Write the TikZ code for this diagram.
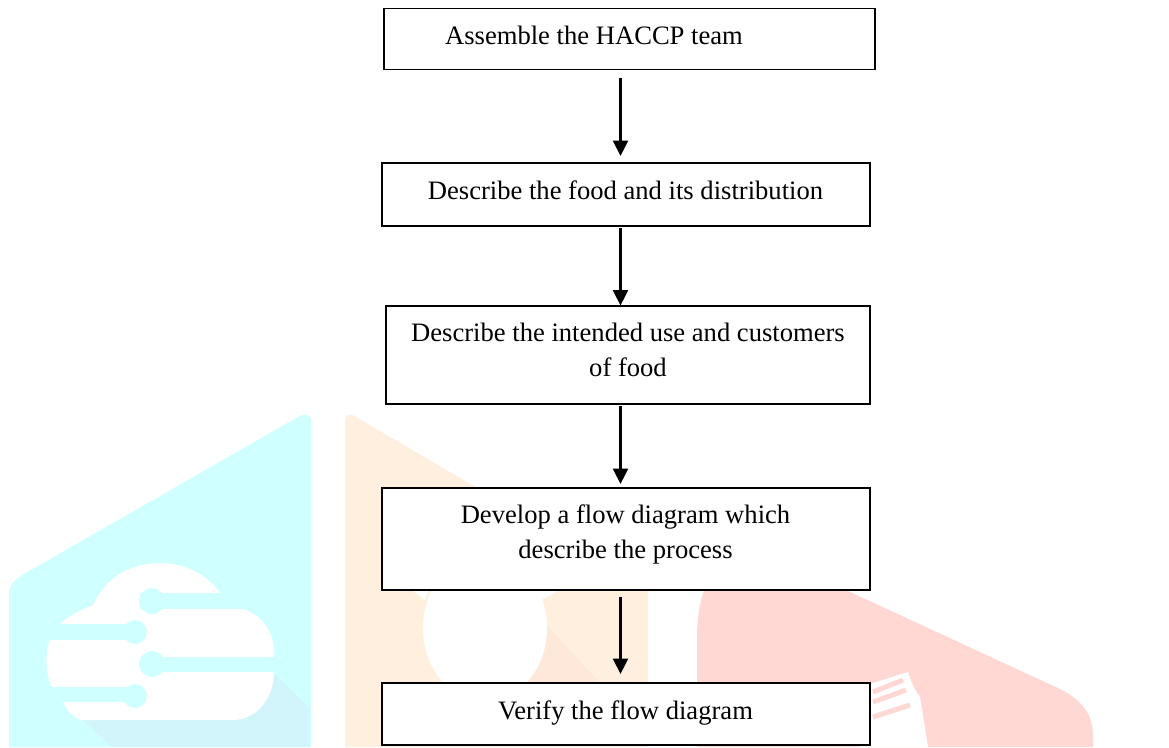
\documentclass[tikz,border=0pt]{standalone}
\usepackage{fontspec}
\setmainfont{Liberation Serif}
\usetikzlibrary{arrows.meta}
\definecolor{wcyan}{HTML}{CFFFFF}
\definecolor{wcyans}{HTML}{D2F5FC}
\definecolor{worange}{HTML}{FFEFDF}
\definecolor{woranges}{HTML}{FEE8DA}
\definecolor{wred}{HTML}{FFD7D3}
\newcommand{\boxbetween}[5]{\node[stepbox,minimum width=#3pt-#2pt,minimum height=#5pt-#4pt] (#1) at ({(#2+#3)/2},{(#4+#5)/2}) {};}
\tikzset{
  stepbox/.style={draw=black,line width=1.8pt,fill=white,inner sep=0pt,outer sep=0pt},
  steptext/.style={anchor=base,inner sep=0pt,align=center,font=\fontsize{26.6pt}{35.5pt}\selectfont},
  flowarrow/.style={draw=black,line width=2.3pt,-{Triangle[length=15.5pt,width=15pt]}}
}
\begin{document}
\begin{tikzpicture}[x=1pt,y=-1pt]
\useasboundingbox (0,0) rectangle (1169,747);
% watermark: cyan
\fill[wcyan] (9,747) -- (9,595) .. controls (9,585) and (14,580) .. (24,574) -- (298,417) .. controls (305,413) and (311,414) .. (311,422) -- (311,747) -- cycle;
\fill[wcyans] (80,718) -- (112,747) -- (309,747) -- (309,708) -- (273,672) -- cycle;
\fill[white] (60,624) .. controls (70,615) and (82,609) .. (93,605) .. controls (105,578) and (130,563) .. (160,563) .. controls (185,563) and (208,575) .. (220,593) -- (220,609) -- (243,609) .. controls (262,615) and (274,632) .. (274,652) -- (274,672) .. controls (274,700) and (255,720) .. (233,720) -- (80,720) .. controls (72,716) and (68,712) .. (63,702) -- (52,687) .. controls (45,675) and (45,650) .. (50,640) -- cycle;
\fill[wcyan] (140,593) rectangle (225,609);
\fill[wcyan] (152,601) circle[radius=13];
\fill[wcyan] (150,657) rectangle (276,672);
\fill[wcyan] (152,664) circle[radius=13];
\fill[wcyan] (40,624) rectangle (130,640);
\fill[wcyan] (135,632) circle[radius=12];
\fill[wcyan] (40,687) rectangle (130,702);
\fill[wcyan] (135,696) circle[radius=12];
% watermark: orange
\fill[worange] (345,747) -- (345,420) .. controls (345,414) and (350,413) .. (356,417) -- (648,588) -- (648,747) -- cycle;
\fill[woranges] (545,623) -- (600,683) -- (525,683) -- cycle;
\fill[white] (485,628) ellipse[x radius=62,y radius=74];
\fill[white] (413,591) -- (428,591) -- (425,600) -- cycle;
\fill[white] (538,591) -- (558,591) -- (541,600) -- cycle;
% watermark: red
\fill[wred] (697,747) -- (697,640) .. controls (697,615) and (700,600) .. (706,585) -- (835,585) -- (1060,689) .. controls (1082,700) and (1093,715) .. (1093,735) -- (1093,747) -- cycle;
\fill[white] (860,747) -- (860,687) -- (908,672) .. controls (912,685) and (916,692) .. (920,697) -- (928,747) -- cycle;
\draw[wred,line width=5pt] (873,692) -- (903,680) (873,702) -- (906,690) (873,717) -- (910,705);
% boxes
\boxbetween{a}{384}{875}{8.5}{69.5}
\node[steptext] (at) at (594,44) {Assemble the HACCP team};
\boxbetween{b}{382}{870}{163}{226}
\node[steptext] (bt) at (625.5,199) {Describe the food and its distribution};
\boxbetween{c}{386}{870}{306}{404}
\node[steptext] (ct) at (628,376.7) {Describe the intended use and customers\\of food};
\boxbetween{d}{382}{870}{488}{590}
\node[steptext] (dt) at (625.5,558.7) {Develop a flow diagram which\\describe the process};
\boxbetween{e}{382}{870}{683}{745}
\node[steptext] (et) at (625.5,719) {Verify the flow diagram};
% connectors
\coordinate (col) at (620.5,0);
\draw[flowarrow,shorten <=8.5pt,shorten >=7pt] (a.south -| col) -- (b.north -| col);
\draw[flowarrow,shorten <=2pt,shorten >=0.5pt] (b.south -| col) -- (c.north -| col);
\draw[flowarrow,shorten <=2pt,shorten >=4pt] (c.south -| col) -- (d.north -| col);
\draw[flowarrow,shorten <=7pt,shorten >=9pt] (d.south -| col) -- (e.north -| col);
\end{tikzpicture}
\end{document}
